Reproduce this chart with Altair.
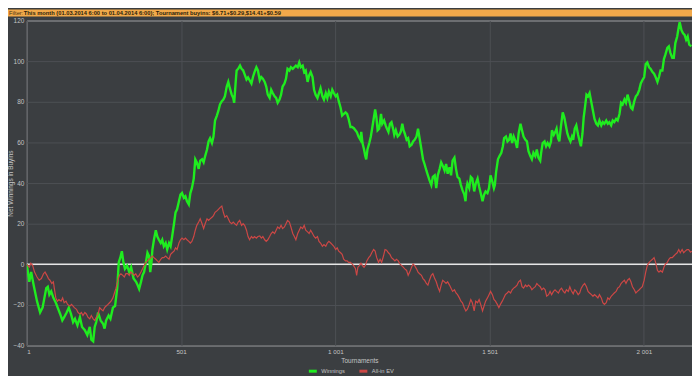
import altair as alt
import pandas as pd

# ---------------- data ----------------
green_t = [1, 9, 15, 23, 34, 44, 52, 58, 64, 69, 74, 80, 87, 95, 101, 109, 116, 122, 130, 137,
           144, 151, 157, 165, 173, 180, 189, 197, 205, 210, 216, 221, 226, 232, 240, 248, 253, 258, 266, 272,
           280, 287, 294, 299, 304, 309, 314, 319, 326, 333, 339, 347, 355, 360, 365, 371, 376, 381, 387, 392,
           397, 401, 405, 408, 413, 419, 424, 429, 435, 440, 445, 451, 456, 462, 467, 472, 478, 483, 488, 494,
           499, 504, 510, 515, 520, 526, 531, 536, 542, 547, 552, 558, 563, 569, 574, 579, 585, 590, 595, 601,
           606, 611, 617, 622, 627, 633, 638, 643, 649, 654, 659, 665, 670, 673, 678, 681, 686, 692, 697, 702,
           707, 713, 718, 723, 729, 734, 739, 745, 750, 756, 761, 766, 772, 777, 782, 788, 793, 798, 804, 809,
           814, 820, 825, 830, 836, 841, 846, 852, 857, 863, 868, 873, 879, 884, 889, 895, 900, 905, 911, 916,
           921, 927, 932, 937, 943, 948, 953, 959, 964, 970, 975, 980, 986, 991, 996, 1002, 1007, 1012, 1018, 1023,
           1028, 1034, 1039, 1044, 1050, 1055, 1061, 1066, 1071, 1076, 1082, 1085, 1089, 1094, 1098, 1101, 1105, 1111, 1116, 1121,
           1126, 1130, 1134, 1138, 1143, 1147, 1149, 1153, 1159, 1164, 1168, 1173, 1178, 1183, 1188, 1192, 1197, 1203, 1208, 1213,
           1218, 1222, 1226, 1232, 1237, 1242, 1248, 1253, 1258, 1264, 1269, 1274, 1280, 1285, 1290, 1296, 1301, 1306, 1312, 1317,
           1323, 1328, 1333, 1339, 1344, 1349, 1355, 1360, 1365, 1371, 1376, 1381, 1387, 1392, 1397, 1403, 1408, 1413, 1419, 1423,
           1426, 1429, 1435, 1440, 1445, 1451, 1456, 1462, 1467, 1472, 1478, 1483, 1488, 1494, 1499, 1504, 1510, 1515, 1518, 1522,
           1528, 1533, 1539, 1544, 1548, 1554, 1559, 1564, 1569, 1574, 1579, 1585, 1590, 1595, 1601, 1606, 1611, 1617, 1622, 1627,
           1633, 1638, 1643, 1649, 1654, 1659, 1665, 1668, 1673, 1679, 1684, 1689, 1695, 1700, 1703, 1709, 1714, 1718, 1723, 1727,
           1732, 1738, 1743, 1747, 1753, 1758, 1763, 1768, 1772, 1777, 1782, 1788, 1793, 1797, 1802, 1806, 1810, 1815, 1820, 1825,
           1831, 1836, 1841, 1847, 1852, 1857, 1863, 1868, 1873, 1879, 1884, 1889, 1895, 1900, 1905, 1911, 1916, 1922, 1927, 1932,
           1938, 1943, 1948, 1954, 1959, 1964, 1970, 1975, 1980, 1986, 1991, 1996, 2002, 2007, 2012, 2018, 2023, 2029, 2034, 2039,
           2045, 2050, 2055, 2061, 2066, 2071, 2077, 2082, 2087, 2093, 2098, 2103, 2109, 2114, 2117, 2123, 2128, 2133, 2138, 2143,
           2148, 2155]
green_v = [0, -8.6, -3.8, -10.2, -18.1, -23.7, -21.3, -16.5, -11.7, -11, -14.9, -13.3, -16.5, -18.9, -21.3, -24.4, -27.6, -26, -23.7, -21.3,
           -24.4, -28.4, -26.8, -30, -26, -30.8, -32.4, -34.8, -30.8, -37.1, -37.9, -30.8, -28.4, -23.7, -27.6, -29.2, -31.6, -27.6, -25.2, -26.8,
           -21.3, -20.5, -11.7, 1, 3.3, 6.5, 1, -2.2, -0.6, -3.8, -1.4, -7, -8.6, -10.2, -12.1, -8.6, -5.4, -3.8, 1, 5.7,
           4.1, -3.8, 1, 7.3, 12.1, 16.8, 13.7, 12.1, 10.5, 12.1, 8.9, 10.5, 7.3, 10.5, 8.9, 13.7, 20, 25.6, 27.1, 31.1,
           34.3, 35.1, 32.7, 33.5, 31.1, 29.5, 35.1, 37.5, 42.2, 51.7, 50.2, 47, 51, 51.7, 50.2, 53.3, 56.5, 60.5, 62.1, 59.7,
           62.9, 70.8, 73.2, 75.6, 78.7, 80.3, 81.1, 82.7, 87.5, 89.8, 86.7, 83.5, 81.9, 79.5, 89.8, 95.4, 96.2, 97.8, 96.2, 95.5,
           93.5, 91, 92, 90.6, 89, 92.2, 94.6, 97, 95.4, 90.6, 92.2, 91.4, 89.8, 87.5, 83.5, 81.9, 85.9, 84.3, 82.7, 81.9,
           79.5, 81.1, 83.5, 87.5, 89, 91.4, 96.2, 95.4, 97, 96.2, 97, 97.8, 97, 99.4, 97, 97.8, 94.6, 95.4, 89.8, 93,
           94.6, 92.2, 85.9, 83.5, 81.9, 84.3, 86.7, 82.7, 81.1, 84.3, 81.9, 85.1, 82.7, 85.9, 84.3, 82.7, 83.5, 80.3, 77.1, 73.2,
           74, 74.8, 74, 71.6, 67.6, 67.6, 67, 66, 65, 62.9, 61.3, 65.2, 59.7, 56.5, 53.3, 51.7, 56.5, 59.7, 62.9, 67.6,
           72.4, 76.3, 72.4, 66, 66.8, 71.6, 74, 69.2, 70.8, 68.4, 66.8, 65.2, 69.2, 70, 66.8, 63.7, 66, 62.9, 63.7, 65.2,
           69.2, 66, 64.4, 61.3, 62.1, 58.1, 58.9, 60.5, 61.3, 62.9, 66.8, 62.1, 56.5, 51.7, 49.4, 46.2, 43.8, 41.4, 39, 43,
           43.8, 37.5, 43.8, 47, 50.2, 48.6, 46.2, 49.4, 44.6, 47.8, 43.8, 51, 52.5, 47, 43, 42.2, 39, 36.5, 34.3, 31.1,
           37.5, 39.8, 37.5, 43, 42.2, 35.9, 39.8, 42.2, 38.3, 35.1, 31.1, 34.3, 35.9, 35.1, 37.5, 43.8, 40.6, 37.5, 39, 45.4,
           51.7, 53.3, 54.9, 58.1, 62.1, 62.9, 60.5, 61.3, 64.4, 59.7, 62.9, 60.5, 57.3, 64.4, 69.2, 66, 62.9, 61.3, 60.5, 55.7,
           53.3, 51.7, 54.9, 53.3, 56.5, 52.5, 51, 54.9, 59.7, 60.5, 58.1, 59.7, 58.1, 60.5, 66, 63.7, 65.2, 66.8, 62.1, 60.5,
           67.6, 74.8, 72.4, 69.2, 64.4, 62.1, 60.5, 62.9, 61.3, 66.8, 68.4, 63.7, 60.5, 58.1, 64.4, 72.4, 77.1, 83.5, 82.7, 84.3,
           79.5, 75.6, 71.6, 69.2, 68.4, 70.8, 68.4, 70, 69.2, 70.8, 69.2, 70, 68.4, 70.8, 70, 71.6, 70.8, 74, 79.5, 78.7,
           81.1, 79.5, 83.5, 80.3, 77.1, 76.3, 80.3, 82.7, 83.5, 85.9, 89, 90.6, 92.2, 98.6, 99.4, 97, 96.2, 94.6, 93.8, 92.2,
           89.8, 92.2, 95.4, 95.4, 101, 103.3, 106.5, 107.3, 104.1, 101.7, 101.7, 108.9, 112.1, 116.8, 119.2, 115.2, 113.7, 112.9, 110.5, 112.1,
           108.1, 107.3]

red_t = [1, 9, 14, 20, 26, 34, 41, 48, 55, 60, 66, 71, 76, 82, 87, 90, 95, 100, 105, 112,
         117, 122, 128, 133, 141, 146, 155, 162, 167, 173, 178, 183, 189, 194, 199, 205, 210, 216, 221, 226,
         232, 237, 242, 248, 253, 258, 264, 269, 274, 280, 285, 290, 296, 301, 306, 312, 317, 322, 328, 333,
         338, 344, 349, 354, 360, 365, 371, 376, 381, 387, 392, 397, 403, 408, 413, 419, 424, 429, 435, 440,
         445, 451, 456, 462, 467, 472, 478, 483, 488, 494, 499, 504, 510, 515, 520, 526, 531, 536, 542, 547,
         552, 558, 563, 569, 574, 579, 585, 590, 595, 601, 606, 611, 617, 622, 627, 633, 638, 643, 649, 654,
         659, 665, 670, 675, 681, 686, 691, 697, 702, 707, 713, 718, 723, 729, 734, 739, 745, 750, 756, 761,
         766, 772, 777, 782, 788, 793, 798, 804, 809, 814, 820, 825, 830, 836, 841, 846, 852, 857, 863, 868,
         873, 879, 884, 889, 895, 900, 905, 911, 916, 921, 927, 932, 937, 943, 948, 953, 959, 964, 970, 975,
         980, 986, 991, 996, 1002, 1007, 1012, 1018, 1023, 1028, 1034, 1039, 1044, 1050, 1055, 1060, 1066, 1070, 1074, 1079,
         1084, 1089, 1094, 1098, 1103, 1109, 1114, 1119, 1125, 1130, 1135, 1141, 1146, 1151, 1157, 1162, 1167, 1173, 1178, 1183,
         1189, 1194, 1199, 1205, 1210, 1216, 1221, 1226, 1232, 1237, 1242, 1248, 1253, 1258, 1264, 1269, 1274, 1280, 1285, 1290,
         1296, 1301, 1306, 1312, 1317, 1323, 1328, 1333, 1339, 1344, 1349, 1355, 1360, 1365, 1371, 1376, 1381, 1387, 1392, 1397,
         1403, 1408, 1413, 1419, 1424, 1429, 1435, 1440, 1445, 1451, 1456, 1462, 1467, 1472, 1478, 1483, 1488, 1494, 1499, 1504,
         1510, 1515, 1520, 1526, 1531, 1536, 1542, 1547, 1552, 1558, 1563, 1569, 1574, 1579, 1585, 1590, 1595, 1601, 1606, 1611,
         1617, 1622, 1627, 1633, 1638, 1643, 1649, 1654, 1659, 1665, 1670, 1676, 1681, 1686, 1692, 1697, 1702, 1708, 1713, 1718,
         1724, 1729, 1734, 1740, 1745, 1750, 1756, 1761, 1766, 1772, 1777, 1782, 1788, 1793, 1798, 1804, 1809, 1815, 1820, 1825,
         1831, 1836, 1841, 1847, 1852, 1857, 1863, 1868, 1873, 1879, 1884, 1889, 1895, 1900, 1905, 1911, 1916, 1922, 1927, 1932,
         1938, 1943, 1948, 1954, 1959, 1964, 1970, 1975, 1980, 1986, 1991, 1996, 2002, 2007, 2012, 2018, 2023, 2029, 2034, 2039,
         2045, 2050, 2055, 2061, 2066, 2071, 2077, 2082, 2087, 2093, 2098, 2103, 2109, 2114, 2119, 2125, 2130, 2135, 2141, 2146,
         2152, 2157]
red_v = [0, -1.4, 0.6, -0.6, -3.8, -6.2, -7.8, -7, -4.6, -3.8, -5.4, -7, -7.8, -9.4, -8.6, -11.7, -16.5, -18.1, -17.3, -18.1,
         -16.5, -18.9, -18.1, -19.7, -20.5, -19.7, -21.3, -22.1, -23.7, -24.4, -23.7, -25.2, -23.7, -24.4, -26, -26.8, -25.2, -26.8, -27.6, -26,
         -24.4, -21.3, -22.1, -22.9, -21.3, -20.5, -19.7, -18.9, -18.1, -16.5, -14.1, -11.7, -7.8, -5.4, -4.6, -5.4, -6.2, -4.6, -4.6, -5.4,
         -3.8, -4.6, -5.4, -4.6, -6.2, -5.4, -3.8, -2.2, -0.6, 1, 1.7, 2.5, 3.3, 4.1, 3.3, 2.5, 1.7, 1, 2.5, 3.3,
         3.3, 4.1, 3.3, 2.5, 4.9, 5.7, 6.5, 8.1, 7.3, 10.5, 12.1, 12.9, 12.1, 12.9, 12.1, 11.3, 10.5, 11.3, 13.7, 16.8,
         19.2, 20.8, 22.4, 20, 17.6, 20, 22.4, 21.6, 22.4, 23.2, 24, 25.6, 26.3, 27.1, 27.9, 28.7, 25.6, 23.2, 24, 22.4,
         20.8, 20, 20.8, 20, 19.2, 20.8, 21.6, 19.2, 20, 19.2, 16.8, 13.7, 12.1, 13.7, 12.9, 13.7, 12.9, 13.7, 14, 12.9,
         13.7, 12.1, 11.3, 12.1, 13.7, 15.2, 16, 15.2, 16.8, 18.4, 17.6, 19.2, 17.6, 18.4, 20, 21.6, 20.8, 18.4, 15.2, 13.7,
         12.1, 15.2, 16.8, 18.4, 17.6, 19.2, 16.8, 16, 15.2, 16.8, 15.2, 13.7, 12.9, 13.7, 11.3, 10.5, 8.9, 9.7, 8.9, 10.5,
         11.3, 10.5, 9.7, 8.9, 7.3, 8.1, 6.5, 5.7, 4.9, 2.5, 1.7, 1.7, 1, 1, 0.2, -0.6, -2, -5.4, -1.4, -0.6,
         0.6, -0.6, -1.4, -0.6, 1.7, 3.3, 4.1, 5.7, 7.3, 6.5, 3.3, 1, 2.5, 1, 4.1, 7.3, 7, 5.7, 4.9, 3.3,
         2.5, 1.7, 2.5, 1.7, 0.2, -0.6, -1.4, -2.2, -3, -5.4, -3.8, -1.4, 0.2, -0.6, -2.2, -3.8, -4.6, -5.4, -7, -7.8,
         -9.4, -10.2, -7.8, -5.4, -4.6, -7, -8.6, -11, -13.3, -10.2, -7.8, -8.6, -9.4, -8.6, -10.2, -11.7, -13.3, -12.5, -14.1, -14.9,
         -16.5, -18.1, -18.9, -21.3, -22.9, -22.1, -19.7, -17.3, -18.9, -22.9, -18.1, -18.9, -17.3, -19.7, -22.9, -20.5, -18.1, -16.5, -14.9, -13.3,
         -14.9, -17.3, -18.1, -19.7, -21.3, -19.7, -18.1, -16.5, -14.9, -14.1, -13.3, -14.1, -12.5, -11.7, -11, -10.2, -8.6, -7.8, -11, -11.7,
         -10.2, -11, -10.2, -11, -12.5, -11.7, -11, -9.4, -10.2, -11, -12.5, -11.7, -12.5, -15.7, -14.9, -13.3, -14.9, -13.3, -12.5, -13.3,
         -14.1, -12.5, -11.7, -13.3, -14.1, -12.5, -13.3, -11, -13, -14.5, -12.5, -13.3, -14.9, -14.1, -11.7, -10.2, -9.4, -11, -13.3, -14.1,
         -14.9, -15.7, -14.9, -15.7, -16.5, -14.9, -16.5, -18.9, -19.7, -18.9, -16.5, -17.3, -15.7, -14.9, -14.1, -13.3, -11.7, -11, -9.4, -8.6,
         -7.8, -9.4, -7.8, -7, -8.6, -11, -12.5, -14.1, -13.3, -12.5, -11.7, -11, -7.8, -3.8, -0.6, 1, 1.7, 2.5, 3.3, 1,
         -3, -3.8, -3, -3.8, -1.4, 0.2, 1, 2.5, 3.3, 3.3, 4.1, 4.9, 5.7, 7.3, 5.7, 7.3, 5.7, 6.5, 7.3, 7.3,
         6, 6.5]

series_names = ["Winnings", "All-in EV"]
series_colors = ["#1fec1f", "#cc4745"]
x_ticks = [1, 501, 1001, 1501, 2001]
y_ticks = [-40, -20, 0, 20, 40, 60, 80, 100, 120]
header_label = "Filter:"
header_text = "This month (01.03.2014 6:00 to 01.04.2014 6:00); Tournament buyins: $6.71+$0.29,$14.41+$0.59"

# ---------------- chart ----------------
W, H = 671, 328
BG = "#3b3e41"
FONT = "Liberation Sans"
LABEL_COLOR = "#c4c4c4"
GRID_COLOR = "#4d5054"

rows = [{"t": t, "v": v, "s": series_names[0]} for t, v in zip(green_t, green_v)]
rows += [{"t": t, "v": v, "s": series_names[1]} for t, v in zip(red_t, red_v)]
df = pd.DataFrame(rows)

x_enc = alt.X(
    "t:Q",
    scale=alt.Scale(domain=[1, 2157], nice=False, zero=False),
    axis=alt.Axis(
        values=x_ticks, title="Tournaments", ticks=False, domain=False,
        labelExpr="replace(format(datum.value, ','), ',', ' ')",
        labelFontSize=6.3, labelColor=LABEL_COLOR, labelPadding=3, labelFont=FONT,
        gridColor=GRID_COLOR, gridWidth=1,
        titleFontSize=6.5, titleFontWeight="normal", titleColor=LABEL_COLOR, titleFont=FONT,
        titleX=W / 2, titleY=15, titleAlign="center", titleBaseline="middle",
    ),
)
y_enc = alt.Y(
    "v:Q",
    scale=alt.Scale(domain=[-40, 120], nice=False),
    axis=alt.Axis(
        values=y_ticks, title="Net Winnings in Buyins", ticks=False, domain=False,
        labelFontSize=6.5, labelColor=LABEL_COLOR, labelPadding=3, labelFont=FONT,
        gridColor=GRID_COLOR, gridWidth=1,
        titleFontSize=6.5, titleFontWeight="normal", titleColor=LABEL_COLOR, titleFont=FONT,
        titleX=-16, titleY=H / 2, titleAngle=270, titleAlign="center", titleBaseline="middle",
    ),
)

legend = alt.Legend(
    title=None, orient="none", legendX=283, legendY=H + 20, direction="horizontal",
    symbolType="stroke", symbolStrokeWidth=3, symbolSize=64,
    labelFontSize=5.8, labelColor=LABEL_COLOR, labelFont=FONT,
    columnPadding=8, labelOffset=3, padding=0,
)
color_enc = alt.Color("s:N", scale=alt.Scale(domain=series_names, range=series_colors), legend=legend)

base = alt.Chart(df)
green_line = base.transform_filter(alt.datum.s == series_names[0]).mark_line(strokeWidth=2.4, clip=True).encode(
    x=x_enc, y=y_enc, color=color_enc)
red_line = base.transform_filter(alt.datum.s == series_names[1]).mark_line(strokeWidth=1.2, clip=True).encode(
    x=x_enc, y=y_enc, color=color_enc)

zero_rule = alt.Chart(pd.DataFrame({"v": [0]})).mark_rule(color="#e6e6e6", strokeWidth=1.5).encode(y=alt.Y("v:Q"))

one = pd.DataFrame({"a": [0]})
header_bar = alt.Chart(one).mark_rect(color="#f2a94a").encode(
    x=alt.value(-19), x2=alt.value(W), y=alt.value(-11), y2=alt.value(-4))
header_lbl = alt.Chart(one).mark_text(align="left", baseline="middle", fontSize=5.8, color="#4a3410", font=FONT).encode(
    x=alt.value(-18), y=alt.value(-7.5), text=alt.value(header_label))
header_txt = alt.Chart(one).mark_text(align="left", baseline="middle", fontSize=5.8, fontWeight="bold", color="#2a1e0a", font=FONT).encode(
    x=alt.value(-3), y=alt.value(-7.5), text=alt.value(header_text))

chart = alt.layer(header_bar, header_lbl, header_txt, zero_rule, green_line, red_line).properties(
    width=W, height=H,
    padding={"left": 19, "top": 11, "right": 0, "bottom": 29},
    autosize=alt.AutoSizeParams(type="none"),
    background=BG,
).configure_view(stroke="#5e6164", strokeWidth=1, fill=BG).configure(font=FONT)

chart.save("out.html", embed_options={"renderer": "svg", "actions": False})
